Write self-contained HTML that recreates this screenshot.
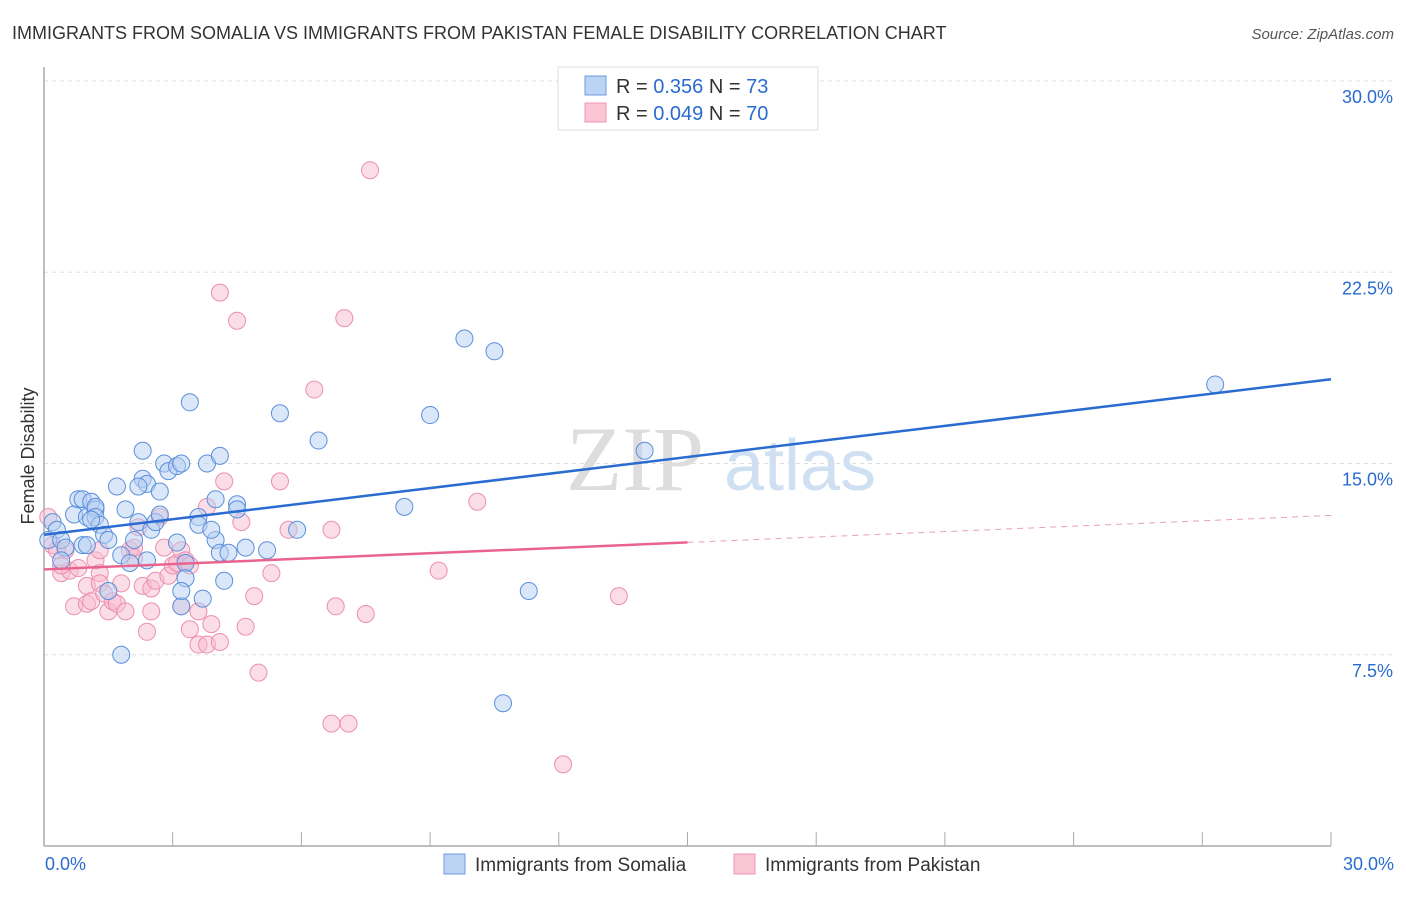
<!DOCTYPE html>
<html><head><meta charset="utf-8"><style>
body{margin:0;background:#fff;font-family:"Liberation Sans",sans-serif;}
</style></head><body>
<svg width="1406" height="892" xmlns="http://www.w3.org/2000/svg" id="chart">
<text x="12" y="39" font-size="18" fill="#333">IMMIGRANTS FROM SOMALIA VS IMMIGRANTS FROM PAKISTAN FEMALE DISABILITY CORRELATION CHART</text>
<text x="1394" y="39" font-size="15" fill="#555" font-style="italic" text-anchor="end">Source: ZipAtlas.com</text>
<text x="34" y="456" font-size="18" fill="#333" text-anchor="middle" transform="rotate(-90 34 456)">Female Disability</text>
<g><text x="635" y="490" font-size="92" fill="#ddd" font-family="Liberation Serif" text-anchor="middle">ZIP</text><text x="800" y="490" font-size="72" fill="#cfe0f3" text-anchor="middle">atlas</text></g>
<g id="grid"></g><g id="axes"></g><g id="pts"></g><g id="lines"></g>
<g>
<rect x="558" y="67" width="260" height="63" fill="#fff" stroke="#ddd"/>
<rect x="585" y="76" width="21" height="19" fill="#bcd4f4" stroke="#6b9be0"/>
<rect x="585" y="103" width="21" height="19" fill="#fac6d6" stroke="#ee94b0"/>
<text x="616" y="93" font-size="20" fill="#333">R = <tspan fill="#2a6bd1">0.356</tspan>   N = <tspan fill="#2a6bd1">73</tspan></text>
<text x="616" y="120" font-size="20" fill="#333">R = <tspan fill="#2a6bd1">0.049</tspan>   N = <tspan fill="#2a6bd1">70</tspan></text>
</g>
<g>
<rect x="444" y="854" width="21" height="20" fill="#bcd4f4" stroke="#6b9be0"/>
<text x="475" y="871" font-size="19" fill="#333">Immigrants from Somalia</text>
<rect x="734" y="854" width="21" height="20" fill="#fac6d6" stroke="#ee94b0"/>
<text x="765" y="871" font-size="19" fill="#333">Immigrants from Pakistan</text>
</g>
</svg>
<script>
const yTicks=[7.5,15,22.5,30];
const xTickLabels=["0.0%","30.0%"];
const somaliaX=[0.2,0.3,0.1,0.4,0.5,0.7,0.8,0.9,0.9,1.0,1.1,1.2,1.2,1.2,1.3,1.4,1.7,1.8,1.9,2.0,2.1,2.2,2.3,2.3,2.4,2.4,2.5,2.6,2.7,2.8,2.9,3.1,3.1,3.2,3.3,3.3,3.2,3.4,3.6,3.6,3.7,3.8,4.0,4.0,4.1,4.1,4.2,4.3,4.5,4.5,4.7,5.2,5.5,5.9,6.4,8.4,9.0,9.8,10.5,11.3,10.7,14.0,27.3,1.8,1.5,1.1,1.5,1.0,0.4,2.7,2.2,3.9,3.2];
const somaliaY=[12.7,12.4,12.0,12.0,11.7,13.0,13.6,13.6,11.8,12.9,13.5,13.2,13.3,12.9,12.6,12.2,14.1,11.4,13.2,11.1,12.0,12.7,14.4,15.5,14.2,11.2,12.4,12.7,13.0,15.0,14.7,11.9,14.9,15.0,11.1,10.5,9.4,17.4,12.9,12.6,9.7,15.0,13.6,12.0,15.3,11.5,10.4,11.5,13.4,13.2,11.7,11.6,16.97,12.4,15.9,13.3,16.9,19.9,19.4,10.0,5.6,15.5,18.1,7.5,12.0,12.8,10.0,11.8,11.2,13.9,14.1,12.4,10.0];
const pakistanX=[0.1,0.2,0.4,0.5,0.6,0.7,0.8,1.0,1.0,1.1,1.2,1.3,1.3,1.4,1.5,1.6,1.7,1.8,1.9,2.0,2.1,2.1,2.2,2.3,2.4,2.5,2.5,2.6,2.7,2.8,2.9,3.0,3.1,3.2,3.2,3.3,3.4,3.4,3.6,3.6,3.8,3.8,3.9,4.1,4.1,4.2,4.5,4.6,4.7,4.9,5.0,5.3,5.5,5.7,6.3,6.7,6.7,6.8,7.0,7.1,7.5,7.6,9.2,10.1,12.1,13.4,1.3,0.4,0.3];
const pakistanY=[12.9,11.8,10.7,11.6,10.8,9.4,10.9,9.5,10.2,9.6,11.2,10.7,10.3,9.9,9.2,9.6,9.5,10.3,9.2,11.6,11.3,11.7,12.5,10.2,8.4,10.1,9.2,10.4,12.9,11.7,10.6,11.0,11.1,9.4,11.6,11.2,8.5,11.0,9.2,7.9,13.3,7.9,8.7,21.7,8.0,14.3,20.6,12.7,8.6,9.8,6.8,10.7,14.3,12.4,17.9,4.8,12.4,9.4,20.7,4.8,9.1,26.5,10.8,13.5,3.2,9.8,11.6,11.0,11.6];
const X=v=>44+v*42.9, Y=v=>846-v*25.5;
const NS="http://www.w3.org/2000/svg";
function mk(t,a,p){const e=document.createElementNS(NS,t);for(const k in a)e.setAttribute(k,a[k]);p.appendChild(e);return e;}
const grid=document.getElementById('grid'),axes=document.getElementById('axes'),pts=document.getElementById('pts'),lines=document.getElementById('lines');
yTicks.forEach(t=>{const l=mk('line',{x1:44,x2:1394,y1:Y(t),y2:Y(t),stroke:'#ddd','stroke-dasharray':'4,4'},grid);


const tx=mk('text',{x:1393,y:Y(t)+22,'font-size':18,fill:'#2a6bd1','text-anchor':'end'},grid);tx.textContent=t.toFixed(1)+'%';

});
const ya=mk('line',{x1:44,x2:44,y1:67,y2:846,stroke:'#aaa','stroke-width':1.5},axes);


const xa=mk('line',{x1:44,x2:1331,y1:846,y2:846,stroke:'#aaa','stroke-width':1.5},axes);


for(let i=1;i<=10;i++){const t=mk('line',{x1:X(i*3),x2:X(i*3),y1:832,y2:846,stroke:'#aaa'},axes);

}
[[0,'start',45],[30,'end',1394]].forEach((d,i)=>{const t=mk('text',{x:d[2],y:870,'font-size':18,fill:'#2a6bd1','text-anchor':d[1]},axes);t.textContent=xTickLabels[i];

});
function series(xs,ys,fill,stroke,name){xs.forEach((x,i)=>{const c=mk('circle',{cx:X(x),cy:Y(ys[i]),r:8.5,fill:fill,'fill-opacity':0.5,stroke:stroke,'stroke-width':1},pts);

});}
series(pakistanX,pakistanY,'#f8bccf','#ec8fae','pakistan-point');
series(somaliaX,somaliaY,'#b5cff2','#5b8fdc','somalia-point');
function fit(xs,ys){const n=xs.length,mx=xs.reduce((a,b)=>a+b)/n,my=ys.reduce((a,b)=>a+b)/n;let sxy=0,sxx=0;xs.forEach((x,i)=>{sxy+=(x-mx)*(ys[i]-my);sxx+=(x-mx)**2;});const b=sxy/sxx;return [my-b*mx,b];}
const [a1,b1]=fit(somaliaX,somaliaY);
const bl=mk('line',{x1:X(0),y1:Y(a1),x2:X(30),y2:Y(a1+b1*30),stroke:'#2a6bd1','stroke-width':2.5},lines);


const [a2,b2]=fit(pakistanX,pakistanY);
const pl=mk('line',{x1:X(0),y1:Y(a2),x2:X(15),y2:Y(a2+b2*15),stroke:'#e8648f','stroke-width':2.5},lines);


const pd=mk('line',{x1:X(15),y1:Y(a2+b2*15),x2:X(30),y2:Y(a2+b2*30),stroke:'#e8a0b8','stroke-width':1,'stroke-dasharray':'6,5'},lines);


</script>
</body></html>
